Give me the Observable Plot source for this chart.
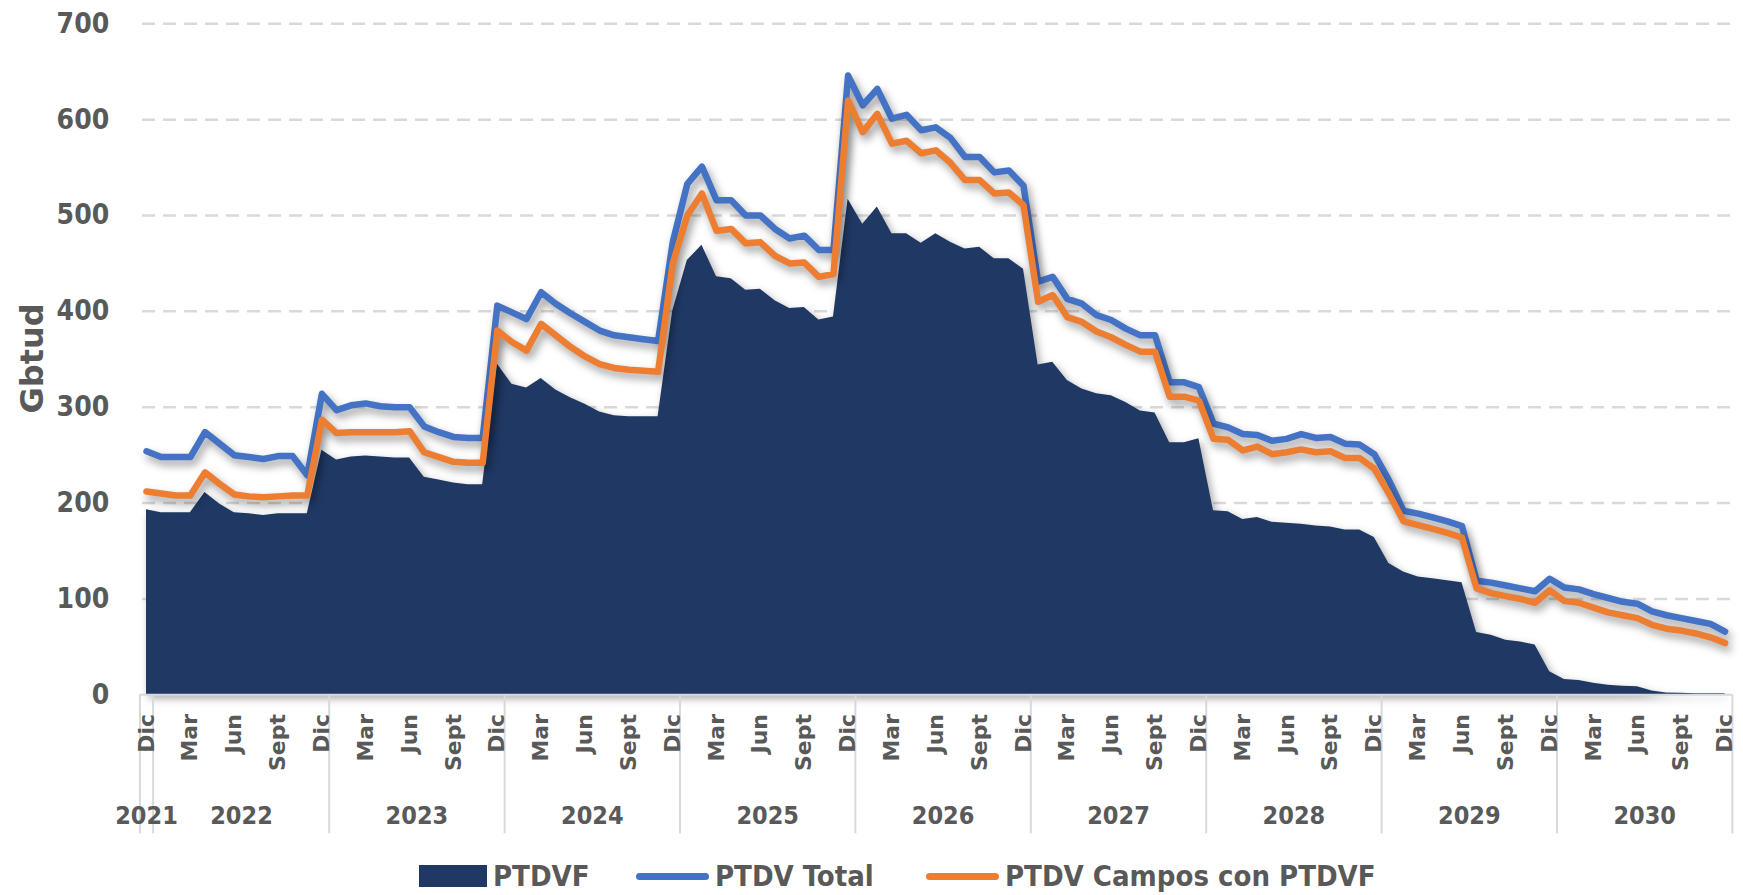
<!DOCTYPE html>
<html>
<head>
<meta charset="utf-8">
<script src="https://cdn.jsdelivr.net/npm/d3@7"></script>
<script src="https://cdn.jsdelivr.net/npm/@observablehq/plot@0.6"></script>
<style>
  html, body { margin: 0; padding: 0; background: #fff; }
  #chart svg { display: block; }
  #legend { position: relative; height: 62px; width: 1743px;
    font-family: 'DejaVu Sans Condensed', 'DejaVu Sans', sans-serif; font-weight: bold;
    font-size: 29px; color: #595959; }
  .item { position: absolute; top: 0; height: 62px; display: flex; align-items: center; white-space: nowrap; }
  .sw-area { width: 68px; height: 22px; background: #203864; }
  .sw-line { width: 73px; height: 7px; border-radius: 4px; }
  .lbl { margin-left: 6px; }
</style>
</head>
<body>
<div id="chart"></div>
<div id="legend">
  <div class="item" style="left:419px"><div class="sw-area"></div><span class="lbl">PTDVF</span></div>
  <div class="item" style="left:636px"><div class="sw-line" style="background:#4472C4"></div><span class="lbl">PTDV Total</span></div>
  <div class="item" style="left:926px"><div class="sw-line" style="background:#ED7D31"></div><span class="lbl">PTDV Campos con PTDVF</span></div>
</div>
<script>
// Monthly series, index 0 = Dic 2021 ... index 108 = Dic 2030
const ptdvf = [
  193,190,190,190,211,199,190,189,187,189,189,189,
  255,245,248,249,248,247,247,227,224,221,219,219,
  345,324,320,330,318,310,303,295,291,290,290,290,
  400,453,469,436,434,422,423,411,403,404,391,394,
  517,491,509,481,481,471,481,472,465,467,455,455,
  444,
  344,347,328,319,314,312,305,296,294,263,263,
  267,
  192,191,183,185,180,179,178,176,175,172,172,
  164,
  137,128,123,121,119,117,65,62,57,55,52,
  24,
  16,15,12,10,9,8.5,4,2,1.5,1,1,1
];
const ptdvTotal = [
  254,248,248,248,274,262,250,248,246,249,249,229,
  314,297,302,304,301,300,300,280,274,269,268,268,
  406,399,392,420,408,398,389,380,375,373,371,369,
  472,533,551,516,516,500,500,486,476,479,464,464,
  646,615,632,601,605,589,592,581,561,561,545,547,
  531,
  431,436,413,408,396,391,382,375,375,326,326,
  321,
  283,279,272,271,265,267,272,268,269,262,261,
  251,
  224,192,189,185,181,176,119,117,114,111,108,
  121,
  112,110,105,101,97,95,87,83,80,77,74,66
];
const ptdvCampos = [
  212,210,208,208,232,220,209,207,206,207,208,208,
  287,273,274,274,274,274,275,253,248,243,242,242,
  380,368,359,387,375,363,353,345,341,339,338,337,
  450,500,523,484,486,471,472,458,450,451,436,439,
  620,587,606,575,578,565,568,555,537,537,523,524,
  511,
  410,417,394,389,379,373,365,358,358,311,311,
  307,
  267,266,255,259,251,253,256,253,254,247,247,
  236,
  210,181,177,173,169,164,111,106,103,100,96,
  109,
  98,96,91,86,83,80,73,69,67,64,60,54
];
const monthNames = ["Dic", "Mar", "Jun", "Sept"];
const years = ["2021","2022","2023","2024","2025","2026","2027","2028","2029","2030"];
const yTicks = [0, 100, 200, 300, 400, 500, 600, 700];

const data = ptdvf.map((v, i) => ({i, ptdvf: v, total: ptdvTotal[i], campos: ptdvCampos[i]}));
const monthTicks = d3.range(0, ptdvf.length, 3).map(i => ({i, label: monthNames[(i / 3) % 4]}));
const yearLabels = years.map((y, k) => ({label: y, i: k === 0 ? 0 : 12 * (k - 1) + 6.5}));
const separators = [-0.45, ...years.map((y, k) => k === 0 ? 0.45 : 12 * k + 0.5)];

const cond = "'DejaVu Sans Condensed', 'DejaVu Sans', sans-serif";
const wide = "'DejaVu Sans', sans-serif";
const grey = "#595959";

const chart = Plot.plot({
  width: 1743,
  height: 845,
  marginLeft: 138.7,
  marginRight: 11.1,
  marginTop: 23.3,
  marginBottom: 150.7,
  style: {color: grey, background: "#fff"},
  x: {domain: [-0.5, 108.5], axis: null},
  y: {domain: [0, 700], axis: null},
  marks: [
    Plot.ruleY(yTicks.filter(d => d > 0), {x1: -0.27, x2: 108.9, stroke: "#d9d9d9", strokeWidth: 2.5, strokeDasharray: "13,8"}),
    Plot.areaY(data, {x: "i", y: "ptdvf", fill: "#203864"}),
    Plot.lineY(data, {x: "i", y: "total", stroke: "#4472C4", strokeWidth: 6.5, strokeLinejoin: "round", strokeLinecap: "round"}),
    Plot.lineY(data, {x: "i", y: "campos", stroke: "#ED7D31", strokeWidth: 6.5, strokeLinejoin: "round", strokeLinecap: "round"}),
    Plot.ruleY([0], {x1: -0.45, x2: 108.5, stroke: "#d9d9d9", strokeWidth: 2}),
    Plot.ruleX(separators, {y1: 0, y2: -145, stroke: "#d9d9d9", strokeWidth: 2}),
    Plot.axisY({ticks: yTicks, tickSize: 0, tickPadding: 30, label: null,
      fontSize: 28, fontFamily: cond, fontWeight: "bold", fill: grey}),
    Plot.text(monthTicks, {x: "i", y: -20, text: "label", rotate: -90, textAnchor: "end",
      fontSize: 22, fontFamily: wide, fontWeight: "bold", fill: grey}),
    Plot.text(yearLabels, {x: "i", y: -126, text: "label",
      fontSize: 25, fontFamily: cond, fontWeight: "bold", fill: grey}),
    Plot.text(["Gbtud"], {x: -0.5, y: 351, dx: -106, rotate: -90,
      fontSize: 32, fontFamily: wide, fontWeight: "bold", fill: grey})
  ]
});
d3.select(chart).selectAll('g[aria-label="line"]').style("filter", "drop-shadow(3px 5px 4px rgba(0,0,0,0.4))");
d3.select(chart).selectAll('g[aria-label="area"]').style("filter", "drop-shadow(3px 4px 4px rgba(0,0,0,0.35))");
document.getElementById("chart").appendChild(chart);
</script>
</body>
</html>
